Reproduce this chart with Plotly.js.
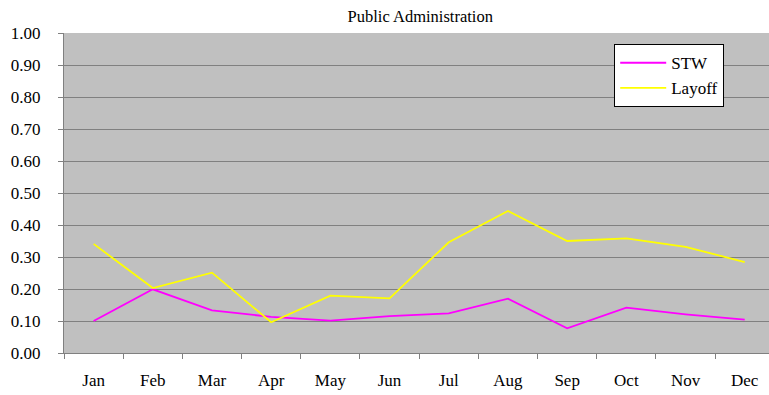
<!DOCTYPE html>
<html>
<head>
<meta charset="utf-8">
<script src="https://cdn.plot.ly/plotly-3.0.1.min.js"></script>
<style>html,body{margin:0;padding:0;background:#fff;}#chart{width:769px;height:395px;}</style>
</head>
<body>
<div id="chart"></div>
<script>
var months = ["Jan","Feb","Mar","Apr","May","Jun","Jul","Aug","Sep","Oct","Nov","Dec"];
var stw = [0.100, 0.199, 0.133, 0.113, 0.101, 0.115, 0.124, 0.170, 0.077, 0.142, 0.121, 0.104];
var layoff = [0.341, 0.203, 0.251, 0.096, 0.179, 0.171, 0.346, 0.444, 0.350, 0.358, 0.332, 0.284];
var yTicks = [0,0.1,0.2,0.3,0.4,0.5,0.6,0.7,0.8,0.9,1.0];

var fam = "Liberation Serif";

var traces = [
  {x: months, y: stw, name: "STW", type: "scatter", mode: "lines",
   line: {color: "#FF00FF", width: 1.8}},
  {x: months, y: layoff, name: "Layoff", type: "scatter", mode: "lines",
   line: {color: "#FFFF00", width: 1.8}}
];

var layout = {
  width: 769, height: 395,
  margin: {l: 64, r: 0, t: 33, b: 42, pad: 0},
  paper_bgcolor: "#fff",
  plot_bgcolor: "#C0C0C0",
  font: {family: fam, color: "#000", size: 17},
  title: {text: "Public Administration", font: {family: fam, size: 16.5, color: "#000"},
          x: 0.5465, xanchor: "center", y: 0.958, yanchor: "middle"},
  showlegend: true,
  legend: {x: 0.780, y: 0.966, xanchor: "left", yanchor: "top",
           bgcolor: "#fff", bordercolor: "#000", borderwidth: 1.3,
           font: {family: fam, size: 17, color: "#000"},
           itemwidth: 46, tracegroupgap: 0},
  xaxis: {
    type: "category",
    range: [-0.5, 11.41],
    tickson: "boundaries",
    ticks: "outside", ticklen: 5, tickcolor: "#808080", tickwidth: 1,
    showline: true, linecolor: "#808080", linewidth: 1,
    showgrid: false, zeroline: false,
    ticklabelstandoff: 12,
    tickfont: {family: fam, size: 17, color: "#000"},
    fixedrange: true
  },
  yaxis: {
    range: [0, 1],
    tickvals: yTicks,
    tickformat: ".2f",
    ticks: "outside", ticklen: 5, tickcolor: "#808080", tickwidth: 1,
    showline: true, linecolor: "#808080", linewidth: 1,
    showgrid: true, gridcolor: "#808080", gridwidth: 1,
    zeroline: false,
    ticklabelstandoff: 14,
    tickfont: {family: fam, size: 17, color: "#000"},
    fixedrange: true
  }
};

Plotly.newPlot("chart", traces, layout, {displayModeBar: false, staticPlot: true});
</script>
</body>
</html>
